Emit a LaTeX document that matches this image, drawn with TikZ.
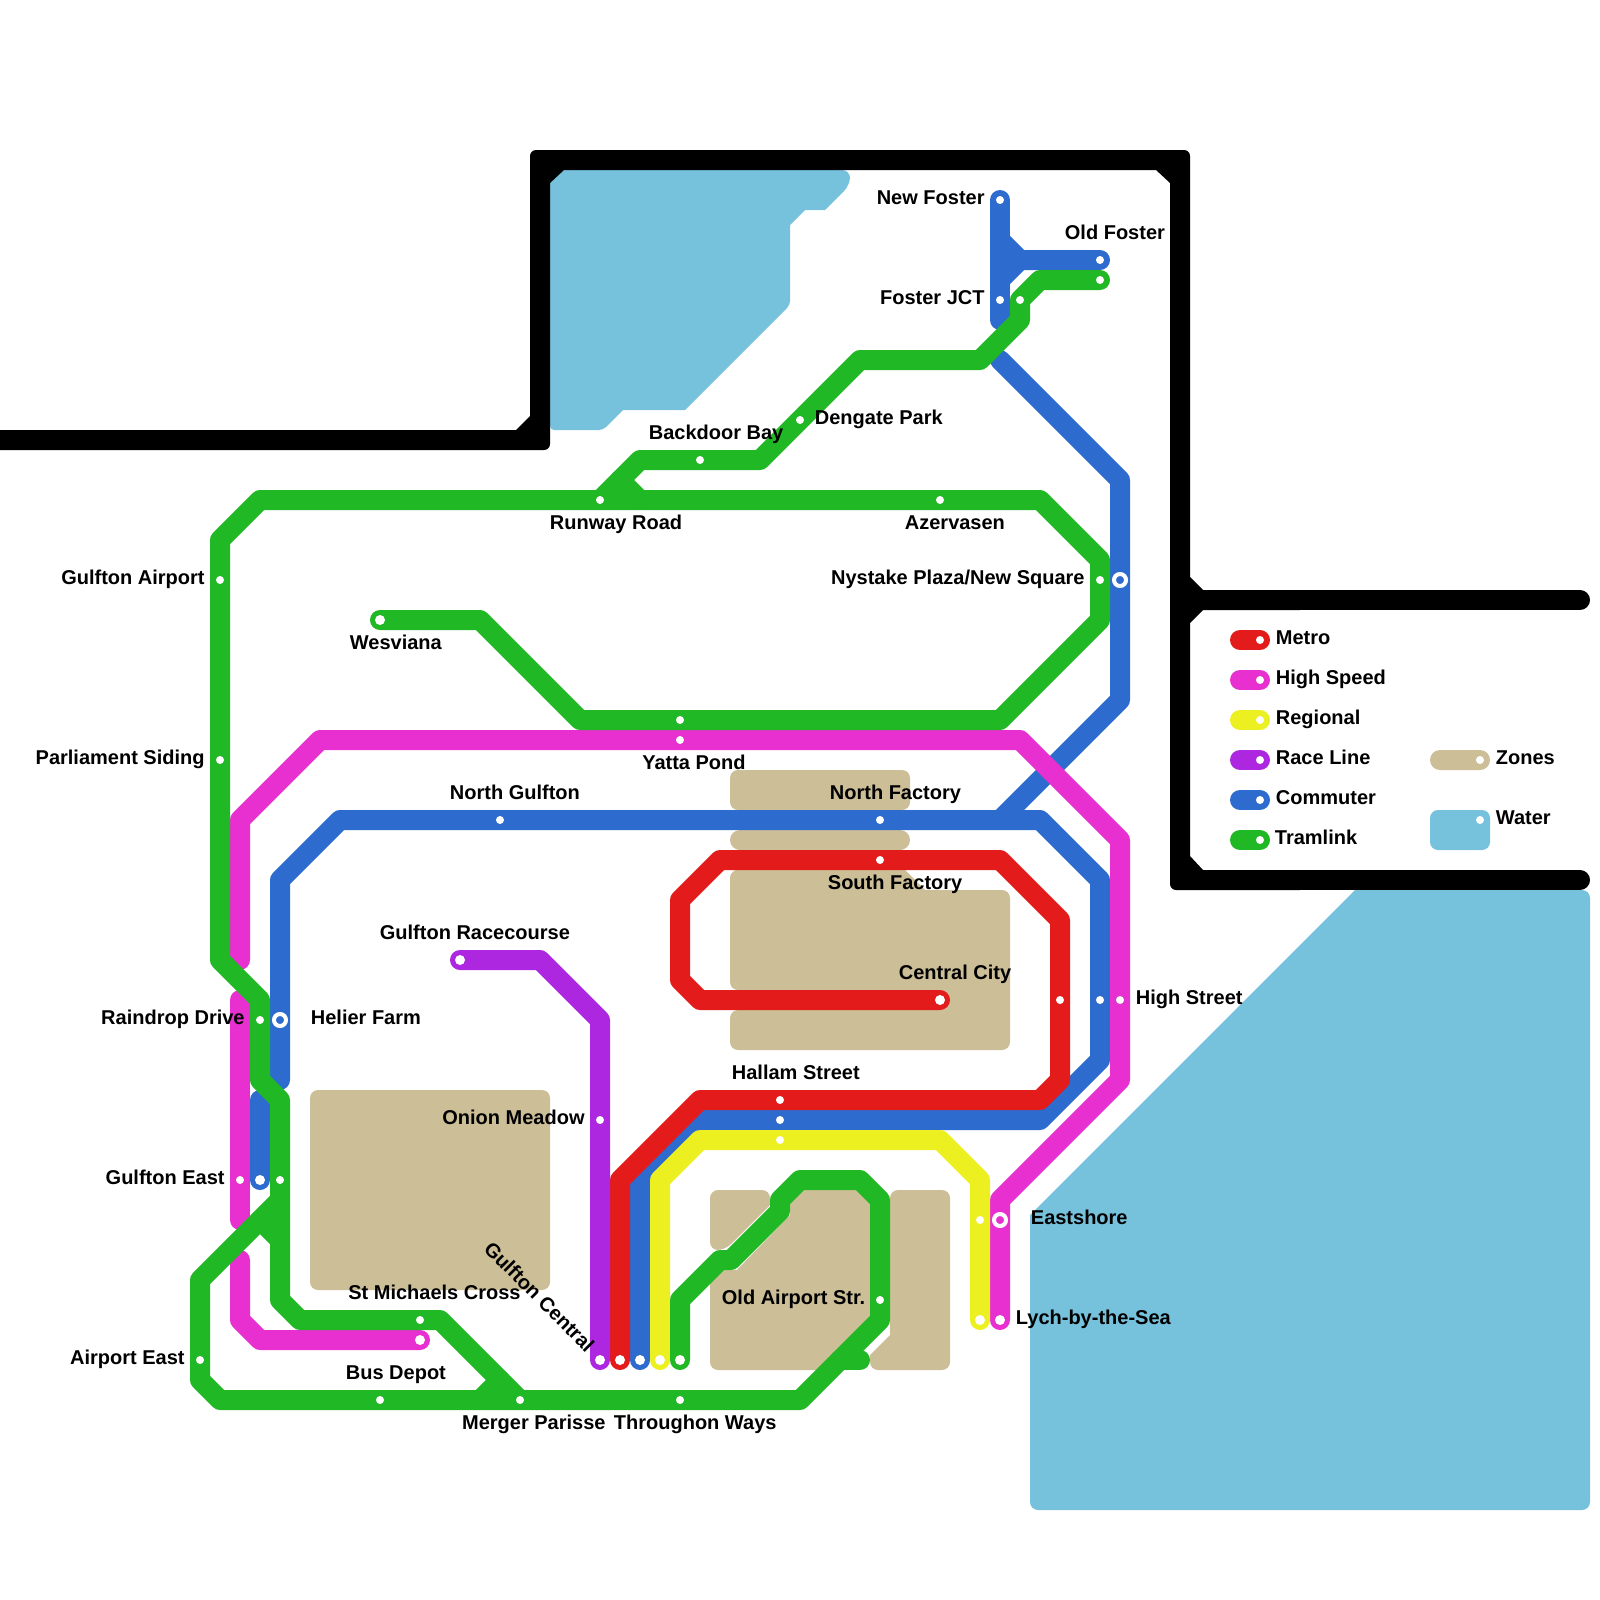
\documentclass[tikz,border=0pt]{standalone}
\usepackage{fontspec}
\setmainfont{Liberation Sans}
\definecolor{cRed}{HTML}{E31B1B}
\definecolor{cMag}{HTML}{E82FD0}
\definecolor{cYel}{HTML}{ECEF20}
\definecolor{cPur}{HTML}{AD27E0}
\definecolor{cBlu}{HTML}{2E6BCF}
\definecolor{cGre}{HTML}{20B824}
\definecolor{cZon}{HTML}{CCBE96}
\definecolor{cWat}{HTML}{76C1DC}
\tikzset{
  railline/.style={line width=10pt,line cap=round,line join=round,draw=#1},
  zonefill/.style={fill=cZon},
  waterfill/.style={fill=cWat},
  rc/.style={rounded corners=4pt},
  sc/.style={sharp corners},
  st/.style={circle,fill=white,inner sep=0pt,minimum size=4pt},
  tm/.style={circle,fill=white,inner sep=0pt,minimum size=5pt},
  ringst/.style={circle,fill=#1,draw=white,line width=2pt,inner sep=0pt,minimum size=6pt},
  lw/.style={inner sep=0pt,anchor=base west,xshift=0.25pt,yshift=0.25pt,font=\bfseries\fontsize{10}{12}\selectfont},
  le/.style={inner sep=0pt,anchor=base east,yshift=0.25pt,font=\bfseries\fontsize{10}{12}\selectfont},
}
\begin{document}
\begin{tikzpicture}[x=0.5pt,y=-0.5pt]
\useasboundingbox (0,0) rectangle (1600,1600);
% station points
\coordinate (NewFoster) at (1000,200);
\coordinate (FosterB) at (1000,300);
\coordinate (FosterG) at (1020,300);
\coordinate (OldFosterB) at (1100,260);
\coordinate (OldFosterG) at (1100,280);
\coordinate (Dengate) at (800,420);
\coordinate (Backdoor) at (700,460);
\coordinate (Runway) at (600,500);
\coordinate (Azervasen) at (940,500);
\coordinate (GulftonAirport) at (220,580);
\coordinate (NystakeG) at (1100,580);
\coordinate (NystakeB) at (1120,580);
\coordinate (Wesviana) at (380,620);
\coordinate (YattaG) at (680,720);
\coordinate (YattaM) at (680,740);
\coordinate (Parliament) at (220,760);
\coordinate (NorthGulfton) at (500,820);
\coordinate (NorthFactory) at (880,820);
\coordinate (SouthFactory) at (880,860);
\coordinate (Racecourse) at (460,960);
\coordinate (Central) at (940,1000);
\coordinate (HighR) at (1060,1000);
\coordinate (HighB) at (1100,1000);
\coordinate (HighM) at (1120,1000);
\coordinate (Raindrop) at (260,1020);
\coordinate (Helier) at (280,1020);
\coordinate (HallamR) at (780,1100);
\coordinate (HallamB) at (780,1120);
\coordinate (HallamY) at (780,1140);
\coordinate (Onion) at (600,1120);
\coordinate (EastM) at (240,1180);
\coordinate (EastB) at (260,1180);
\coordinate (EastG) at (280,1180);
\coordinate (EastshoreY) at (980,1220);
\coordinate (EastshoreM) at (1000,1220);
\coordinate (OldAirport) at (880,1300);
\coordinate (LychY) at (980,1320);
\coordinate (LychM) at (1000,1320);
\coordinate (MichaelsG) at (420,1320);
\coordinate (MichaelsM) at (420,1340);
\coordinate (AirportEast) at (200,1360);
\coordinate (CentralP) at (600,1360);
\coordinate (CentralR) at (620,1360);
\coordinate (CentralB) at (640,1360);
\coordinate (CentralY) at (660,1360);
\coordinate (CentralG) at (680,1360);
\coordinate (BusDepot) at (380,1400);
\coordinate (Merger) at (520,1400);
\coordinate (Throughon) at (680,1400);
% water
\fill[waterfill] (550,170) [sc] -- (843,170) [rc] -- (850,170) -- (850,185) [sc] -- (825,210) -- (805,210) -- (790,225) [rounded corners=2pt] -- (790,305) [sc] -- (685,410) -- (623,410) [rounded corners=2pt] -- (603,430) -- (550,430) [sc] -- cycle;
\fill[waterfill] (1355,890) [rc] -- (1590,890) -- (1590,1510) -- (1030,1510) [sc] -- (1030,1215) -- cycle;
% river
\coordinate (RiverA) at (1200,600);
\coordinate (RiverAe) at (1580,600);
\coordinate (RiverB) at (1200,880);
\coordinate (RiverBe) at (1580,880);
\fill[black] (-20,430) [sc] -- (516,430) -- (530,416) [rounded corners=3pt] -- (530,150) -- (1190,150) [sc] -- (1190,577) -- (1203,590) -- (1300,590) -- (1300,610) -- (1203,610) -- (1190,623) -- (1190,856) -- (1203,870) -- (1300,870) -- (1300,890) [rounded corners=3pt] -- (1170,890) [sc] -- (1170,183) -- (1156,170) -- (564,170) -- (550,183) [rounded corners=3pt] -- (550,450) [sc] -- (-20,450) -- cycle;
\draw[railline=black] (RiverA) -- (RiverAe);
\draw[railline=black] (RiverB) -- (RiverBe);
% zones
\fill[zonefill,rc] (310,1090) rectangle (550,1290);
\fill[zonefill,rc] (730,770) rectangle (910,810);
\fill[zonefill,rounded corners=5pt] (730,830) rectangle (910,850);
\fill[zonefill] (740,870) [sc] -- (905,870) -- (925,890) [rc] -- (1010,890) -- (1010,1050) -- (730,1050) -- (730,1010) [sc] -- (800,1010) -- (800,990) [rc] -- (730,990) -- (730,870) -- cycle;
\fill[zonefill] (730,1190) [rc] -- (770,1190) [sc] -- (770,1205) [rc] -- (725,1250) -- (710,1250) -- (710,1190) -- cycle;
\fill[zonefill] (725,1270) [sc] -- (737,1270) -- (790,1215) [rc] -- (790,1190) -- (870,1190) [sc] -- (870,1325) [rc] -- (825,1370) -- (710,1370) -- (710,1270) -- cycle;
\fill[zonefill] (920,1190) [rc] -- (950,1190) -- (950,1370) -- (870,1370) [sc] -- (870,1355) -- (890,1335) [rc] -- (890,1190) -- cycle;
% commuter
\draw[railline=cBlu] (NewFoster) -- (1000,320);
\draw[railline=cBlu] (1000,240) -- (1020,260) -- (OldFosterB);
\draw[railline=cBlu] (1000,280) -- (1020,260);
\draw[railline=cBlu] (1000,360) -- (1120,480) -- (NystakeB) -- (1120,700) -- (1000,820) -- (340,820) -- (280,880) -- (Helier) -- (280,1080);
\draw[railline=cBlu] (260,1100) -- (EastB);
\draw[railline=cBlu] (1000,820) -- (1040,820) -- (1100,880) -- (HighB) -- (1100,1060) -- (1040,1120) -- (700,1120) -- (640,1180) -- (CentralB);
% high speed
\draw[railline=cMag] (240,960) -- (240,820) -- (320,740) -- (1020,740) -- (1120,840) -- (HighM) -- (1120,1080) -- (1000,1200) -- (LychM);
\draw[railline=cMag] (240,1000) -- (240,1220);
\draw[railline=cMag] (240,1260) -- (240,1320) -- (260,1340) -- (MichaelsM);
% metro
\draw[railline=cRed] (Central) -- (700,1000) -- (680,980) -- (680,900) -- (720,860) -- (1000,860) -- (1060,920) -- (1060,1080) -- (1040,1100) -- (700,1100) -- (620,1180) -- (CentralR);
% regional
\draw[railline=cYel] (CentralY) -- (660,1180) -- (700,1140) -- (940,1140) -- (980,1180) -- (LychY);
% race line
\draw[railline=cPur] (Racecourse) -- (540,960) -- (600,1020) -- (CentralP);
% tramlink
\draw[railline=cGre] (OldFosterG) -- (1040,280) -- (1020,300) -- (1020,320) -- (980,360) -- (860,360) -- (760,460) -- (640,460) -- (600,500);
\draw[railline=cGre] (620,480) -- (640,500);
\draw[railline=cGre] (Wesviana) -- (480,620) -- (580,720) -- (1000,720) -- (1100,620) -- (1100,560) -- (1040,500) -- (260,500) -- (220,540) -- (220,960) -- (260,1000) -- (260,1080) -- (280,1100) -- (280,1300) -- (300,1320) -- (440,1320) -- (Merger);
\draw[railline=cGre] (280,1200) -- (200,1280) -- (200,1380) -- (220,1400) -- (800,1400) -- (880,1320) -- (880,1200) -- (860,1180) -- (800,1180) -- (780,1200) -- (780,1211) -- (731,1260) -- (720,1260) -- (680,1300) -- (CentralG);
\draw[railline=cGre] (260,1220) -- (280,1240);
\draw[railline=cGre] (480,1400) -- (500,1380);
\draw[railline=cGre] (840,1360) -- (860,1360);
% station markers
\node[st] (dNewFoster) at (NewFoster) {};
\node[st] (dFosterB) at (FosterB) {};
\node[st] (dFosterG) at (FosterG) {};
\node[st] (dOldFosterB) at (OldFosterB) {};
\node[st] (dOldFosterG) at (OldFosterG) {};
\node[st] (dDengate) at (Dengate) {};
\node[st] (dBackdoor) at (Backdoor) {};
\node[st] (dRunway) at (Runway) {};
\node[st] (dAzervasen) at (Azervasen) {};
\node[st] (dGulftonAirport) at (GulftonAirport) {};
\node[st] (dNystakeG) at (NystakeG) {};
\node[ringst=cBlu] (dNystakeB) at (NystakeB) {};
\node[tm] (dWesviana) at (Wesviana) {};
\node[st] (dYattaG) at (YattaG) {};
\node[st] (dYattaM) at (YattaM) {};
\node[st] (dParliament) at (Parliament) {};
\node[st] (dNorthGulfton) at (NorthGulfton) {};
\node[st] (dNorthFactory) at (NorthFactory) {};
\node[st] (dSouthFactory) at (SouthFactory) {};
\node[tm] (dRacecourse) at (Racecourse) {};
\node[tm] (dCentral) at (Central) {};
\node[st] (dHighR) at (HighR) {};
\node[st] (dHighB) at (HighB) {};
\node[st] (dHighM) at (HighM) {};
\node[st] (dRaindrop) at (Raindrop) {};
\node[ringst=cBlu] (dHelier) at (Helier) {};
\node[st] (dHallamR) at (HallamR) {};
\node[st] (dHallamB) at (HallamB) {};
\node[st] (dHallamY) at (HallamY) {};
\node[st] (dOnion) at (Onion) {};
\node[st] (dEastM) at (EastM) {};
\node[tm] (dEastB) at (EastB) {};
\node[st] (dEastG) at (EastG) {};
\node[st] (dEastshoreY) at (EastshoreY) {};
\node[ringst=cMag] (dEastshoreM) at (EastshoreM) {};
\node[st] (dOldAirport) at (OldAirport) {};
\node[tm] (dLychY) at (LychY) {};
\node[tm] (dLychM) at (LychM) {};
\node[st] (dMichaelsG) at (MichaelsG) {};
\node[tm] (dMichaelsM) at (MichaelsM) {};
\node[st] (dAirportEast) at (AirportEast) {};
\node[tm] (dCentralP) at (CentralP) {};
\node[tm] (dCentralR) at (CentralR) {};
\node[tm] (dCentralB) at (CentralB) {};
\node[tm] (dCentralY) at (CentralY) {};
\node[tm] (dCentralG) at (CentralG) {};
\node[st] (dBusDepot) at (BusDepot) {};
\node[st] (dMerger) at (Merger) {};
\node[st] (dThroughon) at (Throughon) {};
% labels
\node[le] (lNewFoster) at (985,205) {New Foster};
\node[lw] (lOldFoster) at (1064,240) {Old Foster};
\node[le] (lFoster) at (985,305) {Foster JCT};
\node[lw] (lDengate) at (814,425) {Dengate Park};
\node[lw] (lBackdoor) at (648,440) {Backdoor Bay};
\node[lw] (lRunway) at (549,530) {Runway Road};
\node[lw] (lAzervasen) at (904,530) {Azervasen};
\node[le] (lGulftonAirport) at (205,585) {Gulfton Airport};
\node[le] (lNystake) at (1085,585) {Nystake Plaza/New Square};
\node[lw] (lWesviana) at (349,650) {Wesviana};
\node[le] (lParliament) at (205,765) {Parliament Siding};
\node[le] (lYatta) at (746,770) {Yatta Pond};
\node[lw] (lNorthGulfton) at (449,800) {North Gulfton};
\node[lw] (lNorthFactory) at (829,800) {North Factory};
\node[lw] (lSouthFactory) at (827,890) {South Factory};
\node[lw] (lRacecourse) at (379,940) {Gulfton Racecourse};
\node[lw] (lCentral) at (898,980) {Central City};
\node[lw] (lHigh) at (1135,1005) {High Street};
\node[le] (lRaindrop) at (245,1025) {Raindrop Drive};
\node[lw] (lHelier) at (310,1025) {Helier Farm};
\node[lw] (lHallam) at (731,1080) {Hallam Street};
\node[le] (lOnion) at (585,1125) {Onion Meadow};
\node[le] (lEast) at (225,1185) {Gulfton East};
\node[lw] (lEastshore) at (1030,1225) {Eastshore};
\node[lw] (lOldAirport) at (721,1305) {Old Airport Str.};
\node[lw] (lLych) at (1015,1325) {Lych-by-the-Sea};
\node[le] (lMichaels) at (521,1300) {St Michaels Cross};
\node[le] (lAirportEast) at (185,1365) {Airport East};
\node[lw] (lBusDepot) at (345,1380) {Bus Depot};
\node[le] (lMerger) at (606,1430) {Merger Parisse};
\node[lw] (lThroughon) at (613,1430) {Throughon Ways};
\node[inner sep=0pt,rotate=-45,font=\bfseries\fontsize{10}{12}\selectfont] (lGCentral) at (539.5,1296.5) {Gulfton Central};
% legend
\coordinate (kMa) at (1240,640); \coordinate (kMb) at (1260,640);
\coordinate (kHa) at (1240,680); \coordinate (kHb) at (1260,680);
\coordinate (kRa) at (1240,720); \coordinate (kRb) at (1260,720);
\coordinate (kLa) at (1240,760); \coordinate (kLb) at (1260,760);
\coordinate (kCa) at (1240,800); \coordinate (kCb) at (1260,800);
\coordinate (kTa) at (1240,840); \coordinate (kTb) at (1260,840);
\draw[railline=cRed] (kMa) -- (kMb);
\draw[railline=cMag] (kHa) -- (kHb);
\draw[railline=cYel] (kRa) -- (kRb);
\draw[railline=cPur] (kLa) -- (kLb);
\draw[railline=cBlu] (kCa) -- (kCb);
\draw[railline=cGre] (kTa) -- (kTb);
\node[st] (dkM) at (kMb) {};
\node[st] (dkH) at (kHb) {};
\node[st] (dkR) at (kRb) {};
\node[st] (dkL) at (kLb) {};
\node[st] (dkC) at (kCb) {};
\node[st] (dkT) at (kTb) {};
\fill[zonefill,rounded corners=5pt] (1430,750) rectangle (1490,770);
\fill[waterfill,rc] (1430,810) rectangle (1490,850);
\node[st] (dkZ) at (1480,760) {};
\node[st] (dkW) at (1480,820) {};
\node[lw] (lkM) at (1275,645) {Metro};
\node[lw] (lkH) at (1275,685) {High Speed};
\node[lw] (lkR) at (1275,725) {Regional};
\node[lw] (lkL) at (1275,765) {Race Line};
\node[lw] (lkC) at (1275,805) {Commuter};
\node[lw] (lkT) at (1274,845) {Tramlink};
\node[lw] (lkZ) at (1495,765) {Zones};
\node[lw] (lkW) at (1495,825) {Water};
\end{tikzpicture}
\end{document}
